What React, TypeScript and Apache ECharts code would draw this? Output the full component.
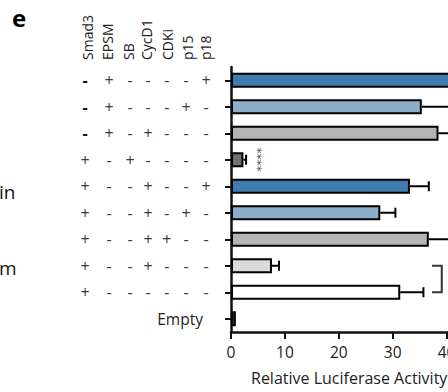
import React, { useEffect, useRef } from "react";
import * as echarts from "echarts";

// Row categories: sign pattern for (Smad3, EPSM, SB, CycD1, CDKi, p15, p18)
const rowLabels = [
  "-+----+",
  "-+---+-",
  "-+-+---",
  "+-+----",
  "+--+--+",
  "+--+-+-",
  "+--++--",
  "+--+---",
  "+------",
  "Empty",
];
const columnNames = ["Smad3", "EPSM", "SB", "CycD1", "CDKi", "p15", "p18"];
const values = [42.5, 35.4, 38.5, 2.3, 33.2, 27.7, 36.7, 7.6, 31.4, 0.9];
const errors = [6, 8, 3, 0.5, 3.5, 2.8, 5, 1.3, 4.3, 0];
const barColors = [
  "#3f7bac",
  "#8baecb",
  "#b4b4b4",
  "#6f6f6f",
  "#3f7bac",
  "#8baecb",
  "#b4b4b4",
  "#dadada",
  "#ffffff",
  "#3c3c3c",
];
const xTicks = [0, 10, 20, 30, 40, 50];
// significance annotations: [row, x value, text]
const sigMarks: [number, number, string][] = [
  [3, 4.8, "****"],
  [7.5, 40.7, "****"],
];
// bracket between rows: [rowA, rowB, arm x, vertical x]
const brackets: [number, number, number, number][] = [[7, 8, 37.3, 39.1]];

const colWidths = [23, 25, 17, 19, 18.5, 20, 20];

export default function App() {
  const ref = useRef<HTMLDivElement>(null);
  useEffect(() => {
    if (!ref.current) return;
    const chart = echarts.init(ref.current, undefined, { renderer: "svg" });
    const font = "Open Sans";
    const rich: any = {};
    colWidths.forEach((w, i) => {
      rich["c" + i] = {
        width: w,
        align: "center",
        fontSize: 16,
        color: "#3a3a3a",
        fontFamily: font,
      };
      rich["d" + i] = {
        width: w,
        align: "center",
        fontSize: 16,
        fontWeight: "bold",
        color: "#111",
        fontFamily: font,
      };
    });
    rich.e = {
      fontSize: 15.5,
      color: "#222",
      fontFamily: font,
      padding: [0, 13, 0, 0],
    };

    const graphics: any[] = [
      {
        type: "text",
        x: 12,
        y: 17,
        style: {
          text: "e",
          fontSize: 24,
          fontWeight: "bold",
          fill: "#000",
          fontFamily: font,
          verticalAlign: "middle",
        },
      },
      {
        type: "text",
        x: -1,
        y: 192,
        style: { text: "in", fontSize: 19, fill: "#111", fontFamily: font, verticalAlign: "middle" },
      },
      {
        type: "text",
        x: -1,
        y: 268,
        style: { text: "m", fontSize: 19, fill: "#111", fontFamily: font, verticalAlign: "middle" },
      },
      {
        type: "text",
        x: 251,
        y: 378,
        style: {
          text: "Relative Luciferase Activity",
          fontSize: 16,
          fill: "#222",
          fontFamily: font,
          verticalAlign: "middle",
        },
      },
    ];
    const headerX = [87, 107, 128, 146, 167, 187, 205];
    columnNames.forEach((n, i) => {
      graphics.push({
        type: "text",
        x: headerX[i],
        y: 60,
        rotation: Math.PI / 2,
        style: {
          text: n,
          fontSize: 14,
          fill: "#222",
          fontFamily: font,
          align: "left",
          verticalAlign: "middle",
        },
      });
    });

    chart.setOption({
      animation: false,
      grid: {
        left: 231,
        top: 67,
        height: 265,
        width: 269.5,
        containLabel: false,
        outerBoundsMode: "none",
      },
      xAxis: {
        type: "value",
        min: 0,
        max: 50,
        interval: 10,
        axisLine: { show: true, lineStyle: { color: "#111", width: 2.5 } },
        axisTick: { show: true, length: 7, lineStyle: { color: "#111", width: 2 } },
        axisLabel: {
          fontSize: 15.5,
          color: "#222",
          fontFamily: font,
          margin: 12,
          formatter: (v: number) => (xTicks.includes(v) ? String(v) : ""),
        },
        splitLine: { show: false },
      },
      yAxis: {
        type: "category",
        inverse: true,
        data: rowLabels,
        axisLine: { show: true, lineStyle: { color: "#111", width: 2.5 } },
        axisTick: {
          show: true,
          alignWithLabel: true,
          length: 6,
          lineStyle: { color: "#111", width: 2 },
        },
        axisLabel: {
          margin: 15,
          color: "#444",
          rich,
          formatter: (v: string) =>
            v === "Empty"
              ? "{e|Empty}"
              : v
                  .split("")
                  .map((s, i) => (i === 0 && s === "-" ? `{d${i}|${s}}` : `{c${i}|${s}}`))
                  .join(""),
        },
      },
      series: [
        {
          type: "bar",
          barWidth: 15,
          data: values.map((v, i) => ({
            value: v,
            itemStyle: { color: barColors[i], borderColor: "#000", borderWidth: 2 },
          })),
        },
        {
          type: "custom",
          clip: false,
          data: values.map((v, i) => [v, i, errors[i]]),
          encode: { x: 0, y: 1 },
          renderItem: (params: any, api: any) => {
            const v = api.value(0);
            const row = api.value(1);
            const e = api.value(2);
            if (!e) return { type: "group", children: [] };
            const p0 = api.coord([v, row]);
            const p1 = api.coord([v + e, row]);
            const st = { stroke: "#000", lineWidth: 2 };
            return {
              type: "group",
              children: [
                { type: "line", shape: { x1: p0[0], y1: p0[1], x2: p1[0], y2: p1[1] }, style: st },
                {
                  type: "line",
                  shape: { x1: p1[0], y1: p1[1] - 5, x2: p1[0], y2: p1[1] + 5 },
                  style: st,
                },
              ],
            };
          },
          z: 1,
        },
        {
          type: "custom",
          clip: false,
          data: brackets,
          encode: { x: 2, y: 0 },
          renderItem: (params: any, api: any) => {
            const a = api.coord([api.value(2), api.value(0)]);
            const b = api.coord([api.value(3), api.value(1)]);
            const va = api.coord([api.value(3), api.value(0)]);
            const st = { stroke: "#333", lineWidth: 2, fill: "none" };
            return {
              type: "polyline",
              shape: {
                points: [
                  [a[0], a[1]],
                  [va[0], va[1]],
                  [b[0], b[1]],
                  [a[0], b[1]],
                ],
              },
              style: st,
            };
          },
        },
        {
          type: "custom",
          clip: false,
          data: sigMarks.map((s) => [s[1], s[0], s[2]]),
          encode: { x: 0, y: 1 },
          renderItem: (params: any, api: any) => {
            const s = sigMarks[params.dataIndex];
            const p = api.coord([s[1], 0]);
            const band = api.size([0, 1])[1];
            const p0 = api.coord([0, 0]);
            const y = p0[1] + band * s[0];
            return {
              type: "text",
              x: p[0],
              y: y,
              rotation: -Math.PI / 2,
              style: {
                text: s[2],
                fontSize: 12,
                fill: "#555",
                fontFamily: "DejaVu Sans",
                align: "center",
                verticalAlign: "middle",
              },
            };
          },
        },
      ],
      graphic: graphics,
    });
    return () => chart.dispose();
  }, []);
  return <div ref={ref} style={{ width: 448, height: 392, position: "absolute", left: 0, top: 0 }} />;
}
